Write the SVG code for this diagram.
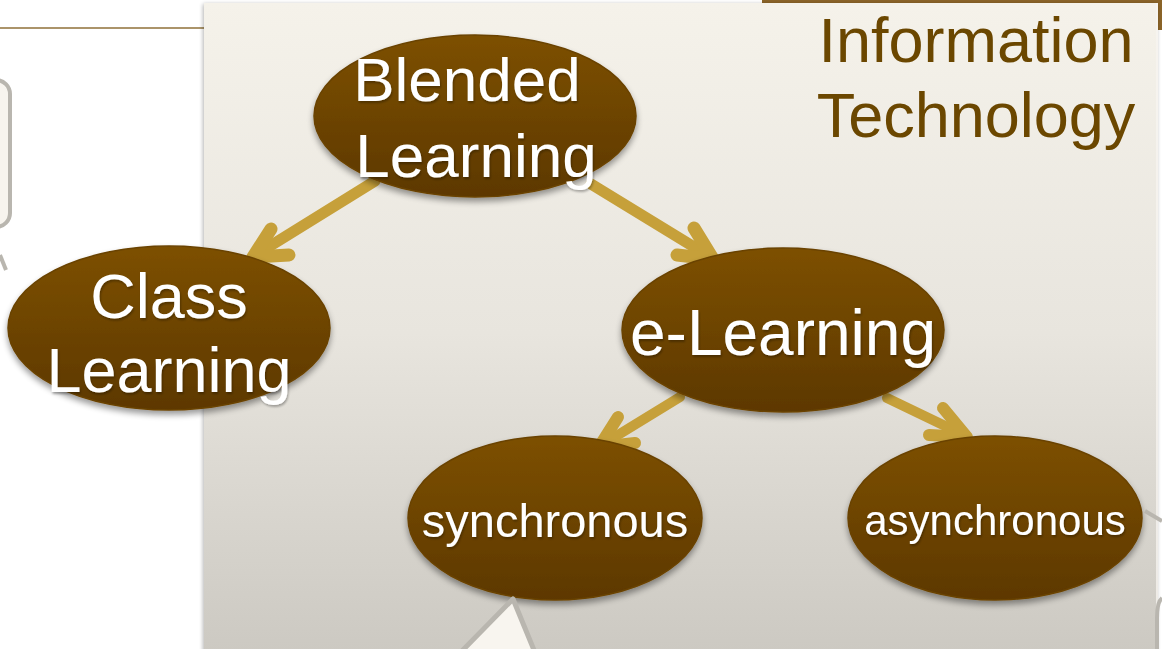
<svg xmlns="http://www.w3.org/2000/svg" width="1162" height="649" viewBox="0 0 1162 649">
<defs>
<linearGradient id="panelGrad" x1="0" y1="0" x2="0" y2="1">
<stop offset="0" stop-color="#f5f2ea"/>
<stop offset="0.5" stop-color="#e8e5de"/>
<stop offset="1" stop-color="#cbc8c1"/>
</linearGradient>
<linearGradient id="nodeGrad" x1="0" y1="0" x2="0" y2="1">
<stop offset="0" stop-color="#7d5000"/>
<stop offset="1" stop-color="#5d3800"/>
</linearGradient>
<filter id="shadow" x="-10%" y="-10%" width="120%" height="130%">
<feGaussianBlur in="SourceAlpha" stdDeviation="3"/>
<feOffset dx="0" dy="4" result="b"/>
<feComponentTransfer><feFuncA type="linear" slope="0.4"/></feComponentTransfer>
<feMerge><feMergeNode/><feMergeNode in="SourceGraphic"/></feMerge>
</filter>
<filter id="panelShadow" x="-5%" y="-5%" width="110%" height="110%">
<feGaussianBlur in="SourceAlpha" stdDeviation="2"/>
<feOffset dx="-1" dy="1"/>
<feComponentTransfer><feFuncA type="linear" slope="0.3"/></feComponentTransfer>
<feMerge><feMergeNode/><feMergeNode in="SourceGraphic"/></feMerge>
</filter>
<filter id="textShadow" x="-5%" y="-10%" width="110%" height="130%">
<feGaussianBlur in="SourceAlpha" stdDeviation="0.8"/>
<feOffset dx="0.5" dy="1.5"/>
<feComponentTransfer><feFuncA type="linear" slope="0.3"/></feComponentTransfer>
<feMerge><feMergeNode/><feMergeNode in="SourceGraphic"/></feMerge>
</filter>
</defs>
<style>
.node{fill:url(#nodeGrad);stroke:#6a4300;stroke-width:1.5;filter:url(#shadow)}
.lbl{font-family:"Liberation Sans",Arial,sans-serif;fill:#ffffff;text-anchor:middle;filter:url(#textShadow)}
.arrow{fill:none;stroke:#c6a03a;stroke-linecap:round;stroke-linejoin:round}
.gray{fill:none;stroke:#b9b6af;stroke-width:4}
.title{font-family:"Liberation Sans",Arial,sans-serif;fill:#6b4700;font-size:63px;text-anchor:middle}
</style>
<rect x="0" y="0" width="1162" height="649" fill="#ffffff"/>
<line x1="0" y1="28" x2="206" y2="28" stroke="#ab946a" stroke-width="2"/>
<rect x="-20" y="80" width="30" height="147" rx="14" fill="#f7f4ee" stroke="#b9b6af" stroke-width="4"/>
<line x1="0" y1="255" x2="6" y2="270" class="gray"/>
<rect x="762" y="0" width="400" height="30" fill="#8b6428"/>
<rect x="204" y="3" width="954" height="660" fill="url(#panelGrad)" filter="url(#panelShadow)"/>
<line x1="1157" y1="3" x2="1157" y2="649" stroke="#f7f5f0" stroke-width="1.5"/>
<text class="title" x="976" y="62">Information</text>
<text class="title" x="976" y="137">Technology</text>
<g id="connectors">
<line class="arrow" stroke-width="11" x1="375" y1="181" x2="254" y2="256"/>
<polyline class="arrow" stroke-width="13" points="271,229 253,257 289,255"/>
<line class="arrow" stroke-width="11" x1="591" y1="184" x2="712" y2="258"/>
<polyline class="arrow" stroke-width="13" points="694,228 713,259 677,255"/>
<line class="arrow" stroke-width="10" x1="680" y1="397" x2="600" y2="446"/>
<polyline class="arrow" stroke-width="12" points="618,417 599,447 635,443"/>
<line class="arrow" stroke-width="10" x1="887" y1="398" x2="966" y2="436"/>
<polyline class="arrow" stroke-width="12" points="943,408 967,437 929,435"/>
</g>
<g id="node-blended">
<ellipse class="node" cx="475" cy="116" rx="161" ry="81"/>
<text class="lbl" font-size="62" x="467" y="101">Blended</text>
<text class="lbl" font-size="62" x="476" y="177">Learning</text>
</g>
<g id="node-class">
<ellipse class="node" cx="169" cy="328" rx="161" ry="82"/>
<text class="lbl" font-size="63" x="169" y="318">Class</text>
<text class="lbl" font-size="63" x="169" y="392">Learning</text>
</g>
<g id="node-elearning">
<ellipse class="node" cx="783" cy="330" rx="161" ry="82"/>
<text class="lbl" font-size="64" x="783" y="355">e-Learning</text>
</g>
<g id="node-synchronous">
<ellipse class="node" cx="555" cy="518" rx="147" ry="82"/>
<text class="lbl" font-size="47" x="555" y="537">synchronous</text>
</g>
<g id="node-asynchronous">
<ellipse class="node" cx="995" cy="518" rx="147" ry="82"/>
<text class="lbl" font-size="42" x="995" y="535">asynchronous</text>
</g>
<path d="M458,655 L513,599 L536,655 Z" fill="#f8f5ef" stroke="#b9b6af" stroke-width="5" stroke-linejoin="round"/>
<path d="M1145,511 L1162,521" class="gray"/>
<path d="M1162,598 Q1157,602 1157,618 L1157,649" class="gray"/>
</svg>
